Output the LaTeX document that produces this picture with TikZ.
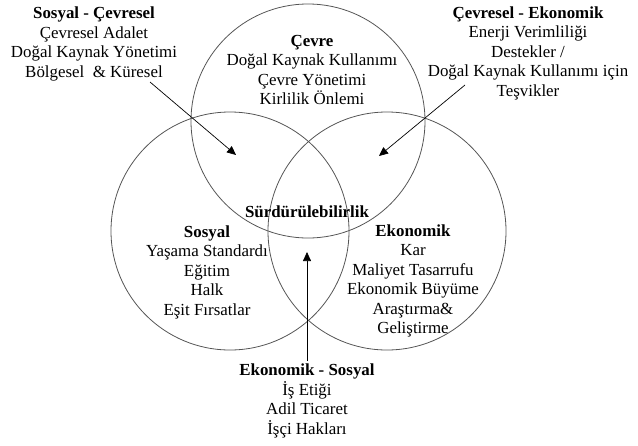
\documentclass[tikz,border=0pt]{standalone}
\usepackage{fontspec}
\setmainfont{Liberation Serif}
\usetikzlibrary{arrows.meta}
\definecolor{ringgray}{HTML}{555555}
\begin{document}
\begin{tikzpicture}[x=1pt,y=-1pt,
  ring/.style={circle,draw=ringgray,line width=0.8pt,inner sep=0pt,minimum size=#1},
  lbl/.style={align=center,inner sep=0pt,font=\fontsize{16.9}{19.5}\selectfont},
  pointer/.style={draw=black,line width=0.7pt,-{Triangle[length=9pt,width=8pt]}}]
\useasboundingbox (0,0) rectangle (638,445);
% circles
\node[ring=234pt] (cevre) at (308,121) {};
\node[ring=238pt] (sosyal) at (230,231) {};
\node[ring=238pt] (ekon) at (387,231) {};
% labels
\node[lbl] (sc) at (94,44) {\textbf{Sosyal - Çevresel}\\Çevresel Adalet\\Doğal Kaynak Yönetimi\\Bölgesel \ \& Küresel};
\node[lbl] (cv) at (312,70) {\textbf{Çevre}\\Doğal Kaynak Kullanımı\\Çevre Yönetimi\\Kirlilik Önlemi};
\node[lbl] (ce) at (528,53) {\textbf{Çevresel - Ekonomik}\\Enerji Verimliliği\\Destekler /\\Doğal Kaynak Kullanımı için\\Teşvikler};
\node[lbl] (sd) at (307,212) {\textbf{Sürdürülebilirlik}};
\node[lbl] (so) at (207,272) {\textbf{Sosyal}\\Yaşama Standardı\\Eğitim\\Halk\\Eşit Fırsatlar};
\node[lbl] (ek) at (413,281) {\textbf{Ekonomik}\\Kar\\Maliyet Tasarrufu\\Ekonomik Büyüme\\Araştırma\&\\Geliştirme};
\node[lbl] (es) at (307,401) {\textbf{Ekonomik - Sosyal}\\İş Etiği\\Adil Ticaret\\İşçi Hakları};
% arrows
\coordinate (a1s) at (150,82);
\coordinate (a1e) at (236,155);
\coordinate (a2s) at (465,85);
\coordinate (a2e) at (379,156);
\coordinate (a3s) at (307,361);
\coordinate (a3e) at (307,252);
\draw[pointer] (a1s) -- (a1e);
\draw[pointer] (a2s) -- (a2e);
\draw[pointer] (a3s) -- (a3e);
\end{tikzpicture}
\end{document}
